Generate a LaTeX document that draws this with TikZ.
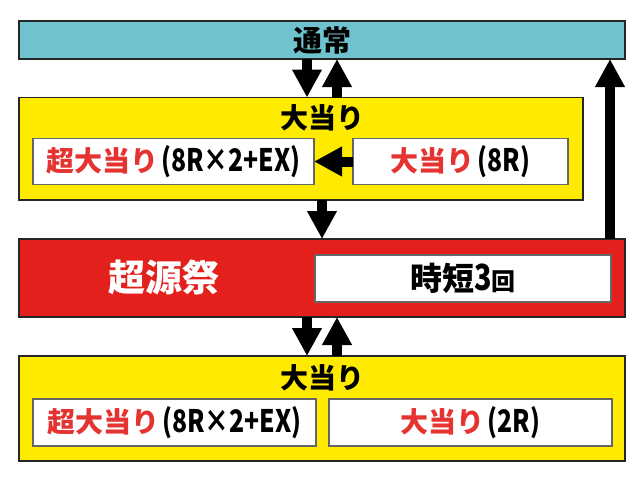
\documentclass[tikz,border=0pt]{standalone}
\usepackage{graphicx}
\usepackage{fontspec}
\setmainfont{Noto Sans CJK JP}
\usetikzlibrary{arrows.meta}
\definecolor{teal1}{HTML}{6FC3CF}
\definecolor{yel}{HTML}{FFEB00}
\definecolor{redbox}{HTML}{E3201B}
\definecolor{redtxt}{HTML}{E53331}
\tikzset{
  outerbox/.style={draw=black!85, line width=1.2pt, inner sep=0pt, outer sep=0pt},
  innerbox/.style={draw=black!60, fill=white, line width=1.2pt, inner sep=0pt, outer sep=0pt, minimum height=46pt},
  lbl/.style={font=\bfseries\fontsize{28}{30}\selectfont, inner sep=0pt},
  bigarrow/.style={line width=10pt, -{Triangle[length=28pt,width=28pt]}},
}
\newcommand{\rt}[1]{\textcolor{redtxt}{#1}}
\newcommand{\lat}[1]{\scalebox{0.8}[1]{\fontsize{31}{31}\selectfont #1}}
\begin{document}
\begin{tikzpicture}[x=1pt,y=-1pt]
\useasboundingbox (0,0) rectangle (641,482);
% boxes
\node[outerbox, fill=teal1, minimum width=606pt, minimum height=38pt] (normal) at (322,40) {};
\node[lbl, font=\bfseries\fontsize{29}{30}\selectfont] (normaltxt) at (322,40) {通常};
\node[outerbox, fill=yel, minimum width=564pt, minimum height=102.5pt] (top) at (301,148.75) {};
\node[lbl] (toptitle) at (322,118) {大当り};
\node[innerbox, minimum width=281pt] (topleft) at (173.5,161.5) {};
\node[lbl] at (topleft) {\rt{超大当り}\hspace{3pt}\lat{(8R×2+EX)}};
\node[innerbox, minimum width=215pt] (topright) at (460.5,161.5) {};
\node[lbl] at (topright) {\rt{大当り}\hspace{3pt}\lat{(8R)}};
\node[outerbox, fill=redbox, minimum width=606pt, minimum height=78pt] (red) at (322,278) {};
\node[lbl, text=white, font=\bfseries\fontsize{37}{40}\selectfont] (chogen) at (164,278) {超源祭};
\node[innerbox, minimum width=296pt, minimum height=47pt] (jitan) at (463,278.5) {};
\node[lbl, font=\bfseries\fontsize{32}{32}\selectfont] at (jitan) {時短\scalebox{0.8}[1]{\fontsize{36}{36}\selectfont 3}{\fontsize{24}{24}\selectfont 回}};
\node[outerbox, fill=yel, minimum width=606pt, minimum height=105pt] (bottom) at (322,408.5) {};
\node[lbl] (bottomtitle) at (322,378) {大当り};
\node[innerbox, minimum width=283pt, minimum height=47pt] (botleft) at (174.5,422.5) {};
\node[lbl] at (botleft) {\rt{超大当り}\hspace{3pt}\lat{(8R×2+EX)}};
\node[innerbox, minimum width=283pt, minimum height=47pt] (botright) at (470.5,422.5) {};
\node[lbl] at (botright) {\rt{大当り}\hspace{3pt}\lat{(2R)}};
% arrows
\draw[bigarrow] ([xshift=-15pt]normal.south) -- ([xshift=-15pt]normal.south |- top.north);
\draw[bigarrow] ([xshift=15pt]normal.south |- top.north) -- ([xshift=15pt]normal.south);
\draw[bigarrow] (topright.west) -- (topleft.east);
\draw[bigarrow] (red.north |- top.south) -- (red.north);
\draw[bigarrow] ([xshift=288pt]red.north) -- ([xshift=288pt]normal.south);
\draw[bigarrow] ([xshift=-15pt]red.south) -- ([xshift=-15pt]bottom.north);
\draw[bigarrow] ([xshift=15pt]bottom.north) -- ([xshift=15pt]red.south);
\end{tikzpicture}
\end{document}
